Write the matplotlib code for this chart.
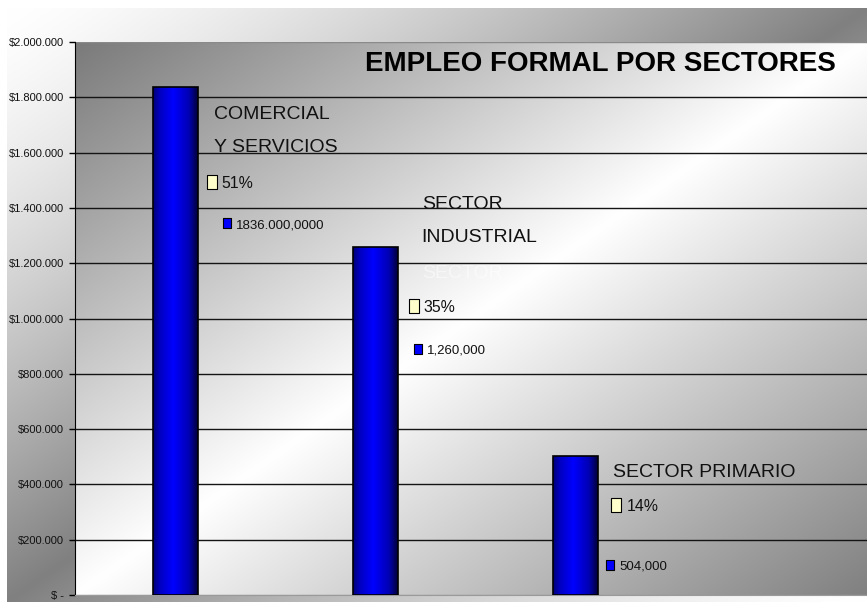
import numpy as np
import matplotlib
matplotlib.use('Agg')
import matplotlib.pyplot as plt
from matplotlib.colors import LinearSegmentedColormap
from matplotlib.ticker import FuncFormatter

# datos
sectores = ['COMERCIAL\nY SERVICIOS', 'SECTOR\nINDUSTRIAL', 'SECTOR PRIMARIO']
empleos = [1836000, 1260000, 504000]
etiquetas_valor = ['1836.000,0000', '1,260,000', '504,000']
porcentajes = [51, 35, 14]
marcas_y = list(range(0, 2000001, 200000))

# donde van las etiquetas de cada barra (coordenadas de datos)
pos_nombre = [(0.195, 1723000), (1.2335, 1396300), (2.1915, 427100)]
pos_pct = [(0.1825, 1493700), (1.1935, 1045900), (2.2065, 323700)]
pos_val = [(0.26, 1344000), (1.2125, 890800), (2.1765, 108500)]

fuente = ['Liberation Sans', 'DejaVu Sans']

W, H = 867, 602
fig = plt.figure(figsize=(W / 100, H / 100), dpi=100)
fig.patch.set_facecolor('white')

# fondo del grafico: degradado diagonal blanco-gris-blanco
bg = fig.add_axes([0, 0, 1, 1], zorder=-5)
bg.axis('off')
xx, yy = np.meshgrid(np.linspace(0, 1, 500), np.linspace(0, 1, 400))
s = 1 - np.abs(xx + yy - 1)
g = (255 - 127 * s ** 1.4) / 255
bg.imshow(np.dstack([g, g, g]), extent=[7 / W, 1, 0, 1 - 8 / H],
          aspect='auto', origin='upper')
bg.set_xlim(0, 1)
bg.set_ylim(0, 1)

ax = fig.add_axes([75 / W, 7 / H, 1 - 75 / W, 553 / H])
ax.set_facecolor('none')

# area de trazado: gris oscuro arriba a la izquierda, blanco en la diagonal
t = xx + yy
g2 = np.where(t <= 1, 122 + 133 * t, 255 - 127 * (t - 1)) / 255
ax.imshow(np.dstack([g2, g2, g2]), extent=[0, 1, 0, 1], transform=ax.transAxes,
          aspect='auto', origin='upper', zorder=0)

# barras azules con brillo
cmap_barra = LinearSegmentedColormap.from_list(
    'barra', [(0, '#000078'), (0.15, '#0000c0'), (0.45, '#0000ff'),
              (0.8, '#0000b4'), (1, '#00003c')])
grad = np.linspace(0, 1, 100).reshape(1, -1)
x = np.arange(len(empleos))
barras = ax.bar(x, empleos, width=0.225, color='none', edgecolor='black',
                linewidth=1.2, zorder=3)
for b in barras:
    x0 = b.get_x()
    im = ax.imshow(grad, extent=[x0, x0 + b.get_width(), 0, b.get_height()],
                   aspect='auto', cmap=cmap_barra, zorder=2.5)
    im.set_clip_path(b)

# titulo
ax.text(0.664, 0.9476, 'EMPLEO FORMAL POR SECTORES', transform=ax.transAxes,
        ha='center', va='baseline', fontsize=20, fontweight='bold',
        family=fuente, color='black', zorder=5)

# etiquetas de cada sector
for i, nombre in enumerate(sectores):
    for j, linea in enumerate(nombre.split('\n')):
        ax.annotate(linea, pos_nombre[i], xytext=(0, -33 * j),
                    textcoords='offset pixels', ha='left', va='baseline',
                    fontsize=14, family=fuente, color='#111111', zorder=5)
ax.annotate('SECTOR', pos_nombre[1], xytext=(0, -69), textcoords='offset pixels',
            ha='left', va='baseline', fontsize=14, family=fuente,
            color='white', alpha=0.5, zorder=5)

caja = [(-0.35, -0.5), (0.35, -0.5), (0.35, 0.5), (-0.35, 0.5), (-0.35, -0.5)]
for i in range(len(empleos)):
    px, py = pos_pct[i]
    ax.plot(px, py, marker=caja, ms=9.4, mfc='#ffffcc', mec='black', mew=0.8,
            ls='none', zorder=5)
    ax.annotate(f'{porcentajes[i]}%', (px, py), xytext=(10, -6),
                textcoords='offset pixels', ha='left', va='baseline',
                fontsize=11.4, family=fuente, color='#111111', zorder=5)
    vx, vy = pos_val[i]
    ax.plot(vx, vy, marker=caja, ms=7.9, mfc='#0000ff', mec='black', mew=0.8,
            ls='none', zorder=5)
    ax.annotate(etiquetas_valor[i], (vx, vy), xytext=(9, -5),
                textcoords='offset pixels', ha='left', va='baseline',
                fontsize=9.5, family=fuente, color='#111111', zorder=5)

def pesos(v, pos):
    if v == 0:
        return '$ -'
    return '$' + f'{v:,.0f}'.replace(',', '.')

ax.set_xlim(-0.5, -0.5 + 792 / 200)
ax.set_ylim(0, 2000000)
ax.set_yticks(marcas_y)
ax.yaxis.set_major_formatter(FuncFormatter(pesos))
ax.set_xticks([])
ax.tick_params(axis='y', direction='out', length=4, width=1, color='black',
               pad=4, labelsize=8, labelcolor='#111111')
for lab in ax.get_yticklabels():
    lab.set_family(fuente)

ax.set_axisbelow(True)
ax.yaxis.grid(True, color='#141414', linewidth=1)
lineas = ax.yaxis.get_gridlines()
lineas[0].set_color('#9a9a9a')
lineas[-1].set_color('#8a8a8a')

ax.spines['top'].set_visible(False)
ax.spines['right'].set_visible(False)
ax.spines['bottom'].set_color('#9a9a9a')
ax.spines['left'].set_color('black')

fig.savefig('out.png', dpi=100)
